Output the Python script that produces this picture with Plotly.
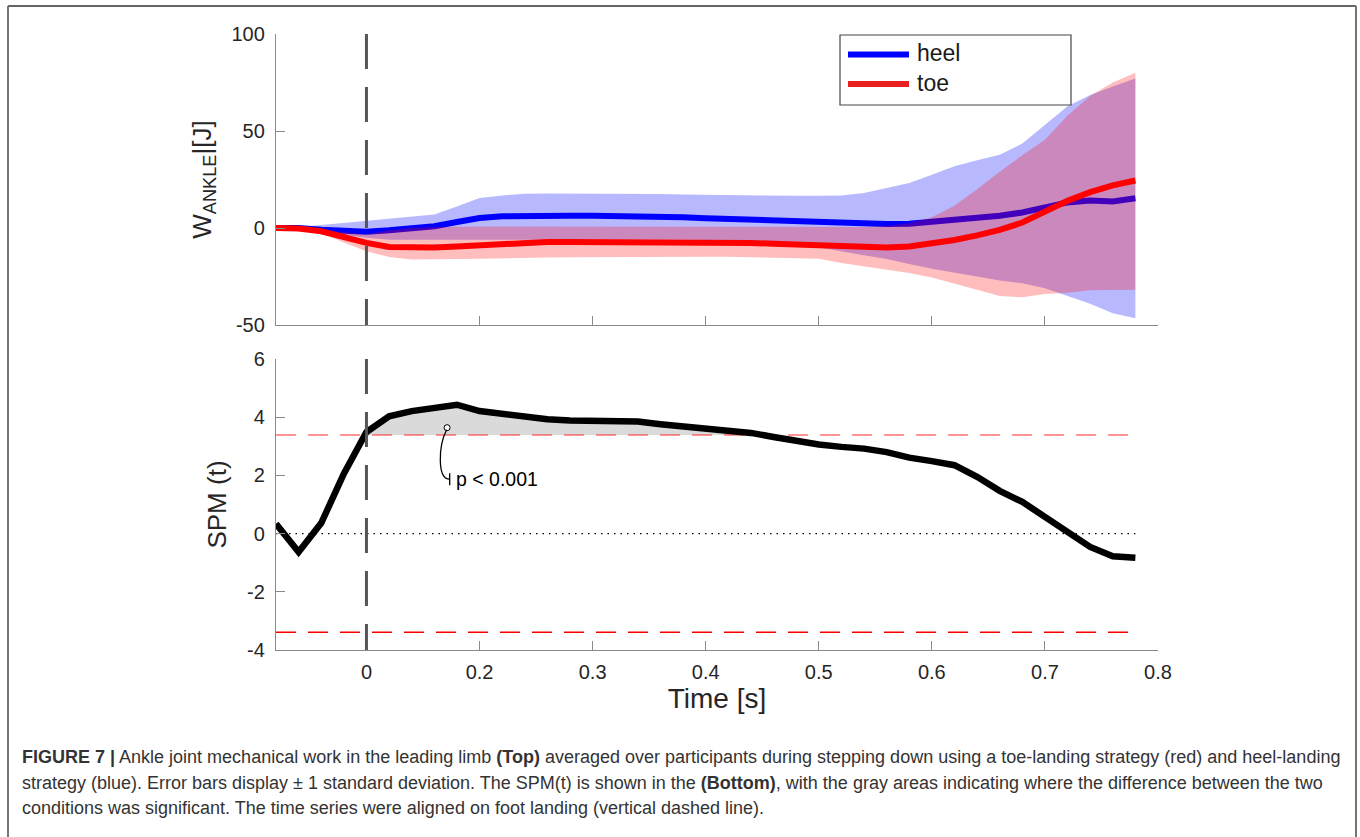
import plotly.graph_objects as go

# ---------------- data ----------------
time_s = [-0.08, -0.06, -0.04, -0.02, 0.00, 0.02, 0.04, 0.06, 0.08, 0.10,
          0.12, 0.14, 0.16, 0.18, 0.20, 0.22, 0.24, 0.26, 0.28, 0.30,
          0.32, 0.34, 0.36, 0.38, 0.40, 0.42, 0.44, 0.46, 0.48, 0.50,
          0.52, 0.54, 0.56, 0.58, 0.60, 0.62, 0.64, 0.66, 0.68]

heel_mean = [0.0, 0.0, -0.9, -1.7, -1.9, -1.2, -0.3, 0.9, 3.1, 5.1,
             6.0, 6.3, 6.3, 6.3, 6.3, 6.2, 6.0, 5.8, 5.5, 5.0,
             4.6, 4.3, 3.9, 3.4, 2.9, 2.4, 2.2, 2.1, 2.2, 3.1,
             4.3, 5.3, 6.3, 8.0, 10.6, 13.2, 14.2, 13.7, 15.3]
heel_upper = [0.0, 0.5, 1.5, 2.6, 3.8, 4.8, 6.0, 6.9, 11.1, 15.5,
              16.8, 17.7, 17.8, 17.8, 17.8, 17.7, 17.6, 17.5, 17.3, 17.1,
              17.0, 16.8, 16.7, 16.6, 16.6, 16.8, 18.0, 20.6, 23.2, 27.5,
              31.8, 34.9, 37.8, 43.5, 53.2, 62.7, 68.5, 73.0, 77.0]
heel_lower = [0.0, -0.5, -1.8, -3.5, -5.0, -6.0, -6.0, -6.0, -6.0, -6.0,
              -6.0, -6.0, -6.0, -6.0, -6.0, -6.0, -6.0, -6.0, -6.0, -6.0,
              -6.3, -6.8, -7.5, -8.5, -10.0, -12.0, -14.0, -16.0, -18.5, -21.0,
              -23.0, -25.0, -27.0, -28.5, -31.0, -35.0, -39.0, -44.0, -46.5]

toe_mean = [0.0, -0.3, -1.7, -4.6, -7.7, -9.8, -10.2, -10.0, -9.5, -8.8,
            -8.1, -7.4, -7.2, -7.2, -7.2, -7.2, -7.2, -7.2, -7.3, -7.3,
            -7.4, -7.7, -8.1, -8.6, -9.1, -9.7, -10.0, -10.0, -9.5, -8.1,
            -6.2, -3.8, -1.0, 2.8, 8.5, 14.0, 18.5, 22.0, 24.5]
toe_upper = [0.0, 0.0, -0.9, -2.0, -3.4, -1.2, 0.0, 0.5, 0.8, 0.8,
             0.8, 0.8, 0.8, 0.8, 0.8, 0.8, 0.7, 0.7, 0.6, 0.6,
             0.5, 0.5, 0.5, 0.5, 0.5, 0.5, 0.5, 1.0, 2.5, 5.5,
             11.5, 20.0, 29.0, 37.5, 45.5, 58.0, 68.0, 75.0, 80.0]
toe_lower = [0.0, -0.8, -2.6, -7.5, -12.0, -15.0, -16.3, -16.3, -16.0, -15.8,
             -15.5, -15.3, -15.2, -15.1, -15.0, -15.0, -14.9, -14.8, -14.8, -14.8,
             -14.8, -15.0, -15.2, -15.5, -15.8, -18.0, -19.5, -21.5, -23.2, -25.5,
             -28.5, -31.8, -35.0, -35.7, -34.0, -33.4, -32.1, -32.0, -31.8]

spm_t = [0.34, -0.63, 0.36, 2.06, 3.49, 4.03, 4.21, 4.33, 4.43, 4.21,
         4.10, 4.01, 3.93, 3.89, 3.89, 3.89, 3.85, 3.76, 3.69, 3.64,
         3.57, 3.46, 3.32, 3.18, 3.06, 2.98, 2.92, 2.80, 2.61, 2.49,
         2.35, 1.95, 1.47, 1.09, 0.57, 0.02, -0.46, -0.78, -0.83]

spm_threshold = 3.39
p_value_text = "p < 0.001"

x_tick_vals = [0.0, 0.1, 0.2, 0.3, 0.4, 0.5, 0.6, 0.7]
x_tick_text = ["0", "0.2", "0.3", "0.4", "0.5", "0.6", "0.7", "0.8"]
top_y_ticks = [-50, 0, 50, 100]
top_y_text = ["-50", "0", "50", "100"]
bot_y_ticks = [-4, -2, 0, 2, 4, 6]
bot_y_text = ["-4", "-2", "0", "2", "4", "6"]

# ---------------- styles ----------------
FONT = "Liberation Sans, Arial, Helvetica, sans-serif"
TXT = "#262626"
AXC = "#8a8a8a"

W, H = 1360, 837
PL, PR, PT, PB = 276, 1158, 34, 650   # plot area in page pixels

fig = go.Figure()

# top panel: bands and means
fig.add_trace(go.Scatter(x=time_s + time_s[::-1], y=heel_upper + heel_lower[::-1],
                         fill="toself", fillcolor="rgba(0,0,255,0.28)", line=dict(width=0),
                         hoverinfo="skip", showlegend=False, xaxis="x", yaxis="y"))
fig.add_trace(go.Scatter(x=time_s, y=heel_mean, mode="lines", name="heel",
                         line=dict(color="#0000ff", width=6), showlegend=False,
                         xaxis="x", yaxis="y"))
fig.add_trace(go.Scatter(x=time_s + time_s[::-1], y=toe_upper + toe_lower[::-1],
                         fill="toself", fillcolor="rgba(255,0,0,0.26)", line=dict(width=0),
                         hoverinfo="skip", showlegend=False, xaxis="x", yaxis="y"))
fig.add_trace(go.Scatter(x=time_s, y=toe_mean, mode="lines", name="toe",
                         line=dict(color="#ff0000", width=6), showlegend=False,
                         xaxis="x", yaxis="y"))

# bottom panel: supra-threshold cluster (gray area)
clusters, cur = [], []
for i in range(len(time_s)):
    if i > 0 and (spm_t[i - 1] - spm_threshold) * (spm_t[i] - spm_threshold) < 0:
        xc = time_s[i - 1] + (spm_threshold - spm_t[i - 1]) * (time_s[i] - time_s[i - 1]) / (spm_t[i] - spm_t[i - 1])
        cur.append((xc, spm_threshold))
        if spm_t[i] < spm_threshold:
            clusters.append(cur)
            cur = []
    if spm_t[i] >= spm_threshold:
        cur.append((time_s[i], spm_t[i]))
if cur:
    clusters.append(cur)
fx, fy = [], []
for c in clusters:
    fx += [p[0] for p in c] + [c[0][0], None]
    fy += [p[1] for p in c] + [c[0][1], None]
fig.add_trace(go.Scatter(x=fx, y=fy, fill="toself", fillcolor="rgb(218,218,218)",
                         line=dict(width=0), hoverinfo="skip", showlegend=False,
                         xaxis="x2", yaxis="y2"))

x_span = [time_s[0], time_s[-1]]
fig.add_trace(go.Scatter(x=x_span, y=[0, 0], mode="lines",
                         line=dict(color="black", width=1.3, dash="1.5px,5px"),
                         showlegend=False, hoverinfo="skip", xaxis="x2", yaxis="y2"))
fig.add_trace(go.Scatter(x=x_span, y=[spm_threshold] * 2, mode="lines",
                         line=dict(color="rgba(255,40,40,0.65)", width=1.6, dash="20px,12px"),
                         showlegend=False, hoverinfo="skip", xaxis="x2", yaxis="y2"))
fig.add_trace(go.Scatter(x=x_span, y=[-spm_threshold] * 2, mode="lines",
                         line=dict(color="#ff0000", width=1.4, dash="20px,12px"),
                         showlegend=False, hoverinfo="skip", xaxis="x2", yaxis="y2"))
fig.add_trace(go.Scatter(x=time_s, y=spm_t, mode="lines",
                         line=dict(color="black", width=6.5),
                         showlegend=False, xaxis="x2", yaxis="y2"))

# p-value callout
fig.add_shape(type="path", xref="x2", yref="y2",
              path="M0.0709,3.57 C0.0635,3.0 0.0625,1.87 0.0736,1.87 M0.0736,2.07 L0.0736,1.66",
              line=dict(color="black", width=1.3))
fig.add_trace(go.Scatter(x=[0.0713], y=[3.64], mode="markers",
                         marker=dict(color="white", size=6, line=dict(color="black", width=1)),
                         showlegend=False, hoverinfo="skip", xaxis="x2", yaxis="y2"))
fig.add_annotation(x=0.0775, y=1.87, xref="x2", yref="y2", text=p_value_text,
                   showarrow=False, xanchor="left", yanchor="middle",
                   font=dict(family=FONT, size=19.5, color="black"))

# vertical landing line in both panels
for xr, yr in (("x", "y domain"), ("x2", "y2 domain")):
    fig.add_shape(type="line", xref=xr, yref=yr, x0=0, x1=0, y0=1, y1=0,
                  line=dict(color="#555555", width=3, dash="35px,18px"))


def px_x(px):
    return (px - PL) / float(PR - PL)


def px_y(py):
    return (PB - py) / float(PB - PT)


# manual legend (MATLAB-style box)
fig.add_shape(type="rect", xref="paper", yref="paper",
              x0=px_x(840), x1=px_x(1071), y0=px_y(105), y1=px_y(35),
              line=dict(color="#444444", width=1.2), fillcolor="white")
for name, col, py in (("heel", "#0000ff", 54.5), ("toe", "#e8201f", 84)):
    fig.add_shape(type="line", xref="paper", yref="paper",
                  x0=px_x(848), x1=px_x(909), y0=px_y(py), y1=px_y(py),
                  line=dict(color=col, width=6))
    fig.add_annotation(x=px_x(915), y=px_y(py - 1), xref="paper", yref="paper",
                       text=name, showarrow=False, xanchor="left", yanchor="middle",
                       font=dict(family=FONT, size=23, color="#1a1a1a"))

# outer frame
for x0, y0, x1, y1 in ((8, 6, 1356, 6), (8, 6, 8, 860), (1356, 6, 1356, 860)):
    fig.add_shape(type="line", xref="paper", yref="paper",
                  x0=px_x(x0), x1=px_x(x1), y0=px_y(y0), y1=px_y(y1),
                  line=dict(color="#666666", width=1.8))

# caption
caption_lines = [
    "<b>FIGURE 7 |</b> Ankle joint mechanical work in the leading limb <b>(Top)</b> averaged over participants during stepping down using a toe-landing strategy (red) and heel-landing",
    "strategy (blue). Error bars display ± 1 standard deviation. The SPM(t) is shown in the <b>(Bottom)</b>, with the gray areas indicating where the difference between the two",
    "conditions was significant. The time series were aligned on foot landing (vertical dashed line).",
]
for line, py in zip(caption_lines, (757, 783, 808)):
    fig.add_annotation(x=px_x(20), y=px_y(py), xref="paper", yref="paper", text=line,
                       showarrow=False, xanchor="left", yanchor="middle",
                       font=dict(family=FONT, size=18, color="#333333"))

axis_common = dict(showline=True, linecolor=AXC, linewidth=1.3, ticks="inside",
                   ticklen=9, tickcolor=AXC, tickwidth=1.3, showgrid=False,
                   zeroline=False, tickfont=dict(family=FONT, size=20, color=TXT))

fig.update_layout(
    width=W, height=H,
    margin=dict(l=PL, r=W - PR, t=PT, b=H - PB),
    paper_bgcolor="white", plot_bgcolor="white",
    showlegend=False,
    xaxis=dict(axis_common, domain=[0, 1], range=[-0.08, 0.70], anchor="y",
               tickvals=x_tick_vals, showticklabels=False),
    yaxis=dict(axis_common, domain=[0.5276, 1], range=[-50, 100], anchor="x",
               tickvals=top_y_ticks, ticktext=top_y_text, ticklabelstandoff=6,
               title=dict(text="W<sub>ANKLE</sub>|[J]", standoff=12,
                          font=dict(family=FONT, size=26, color=TXT))),
    xaxis2=dict(axis_common, domain=[0, 1], range=[-0.08, 0.70], anchor="y2",
                tickvals=x_tick_vals, ticktext=x_tick_text, ticklabelstandoff=4,
                title=dict(text="Time [s]", standoff=2,
                           font=dict(family=FONT, size=28, color=TXT))),
    yaxis2=dict(axis_common, domain=[0, 0.4724], range=[-4, 6], anchor="x2",
                tickvals=bot_y_ticks, ticktext=bot_y_text, ticklabelstandoff=6,
                title=dict(text="SPM (t)", standoff=12,
                           font=dict(family=FONT, size=26, color=TXT))),
)

# remove the default page margin so the figure sits at the window origin
fig.write_html("out.html",
               config={"displayModeBar": False},
               post_script="document.body.style.margin='0';document.body.style.overflow='hidden';")
